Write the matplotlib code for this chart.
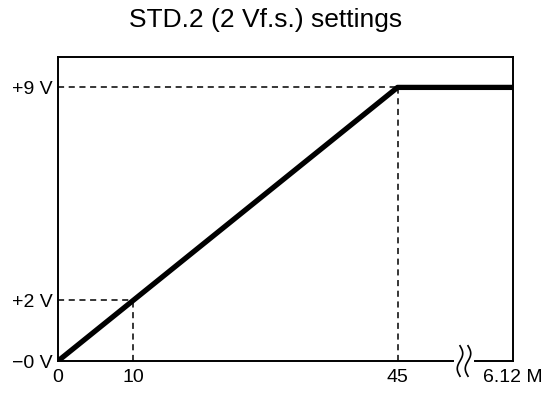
import matplotlib.pyplot as plt
import numpy as np

plt.rcParams['font.family'] = ['Liberation Sans', 'DejaVu Sans']

# data
x_pts = [0, 45, 60.3]
y_pts = [0, 9, 9]
guide_x = [10, 45]
guide_y = [2, 9]
xtick_pos = [0, 10, 45, 60.3]
xtick_lbl = ['0', '10', '45', '6.12 M']
ytick_pos = [0, 2, 9]
ytick_lbl = ['\u22120 V', '+2 V', '+9 V']

fig = plt.figure(figsize=(5.44, 3.94), dpi=100)
ax = fig.add_axes([58 / 544, 33 / 394, 455 / 544, 304 / 394])

# Hilfslinien
for gx, gy in zip(guide_x, guide_y):
    ax.plot([0, gx], [gy, gy], 'k--', linewidth=1.1, dashes=(4, 3))
    ax.plot([gx, gx], [0, gy], 'k--', linewidth=1.1, dashes=(4, 3))

# Kennlinie
ax.plot(x_pts, y_pts, '-', color='k', linewidth=3.8, solid_capstyle='round', zorder=5)

ax.set_xlim(0, 60.3)
ax.set_ylim(0, 10)
ax.set_xticks(xtick_pos)
ax.set_xticklabels(xtick_lbl)
ax.set_yticks(ytick_pos)
ax.set_yticklabels(ytick_lbl)
ax.tick_params(axis='both', length=0, labelsize=14)
ax.tick_params(axis='x', pad=6)
ax.tick_params(axis='y', pad=4)

for s in ['left', 'right', 'top']:
    ax.spines[s].set_linewidth(1.4)
ax.spines['bottom'].set_visible(False)

# untere Achse mit Unterbrechung
tr = ax.transAxes
xb1 = (453 - 58) / 455
xb2 = (475 - 58) / 455
ax.plot([0, xb1], [0, 0], color='k', linewidth=1.4, transform=tr, clip_on=False)
ax.plot([xb2, 1], [0, 0], color='k', linewidth=1.4, transform=tr, clip_on=False)
t = np.linspace(-1, 1, 50)
for cx in [(460 - 58) / 455, (468 - 58) / 455]:
    xs = cx + 0.006 * np.sin(t * np.pi)
    ys = t * 0.05
    ax.plot(xs, ys, color='k', linewidth=1.2, transform=tr, clip_on=False)

fig.text(266 / 544, 1 - 20 / 394, 'STD.2 (2 Vf.s.) settings',
         fontsize=19, ha='center', va='center')

fig.savefig('out.png', dpi=100)
